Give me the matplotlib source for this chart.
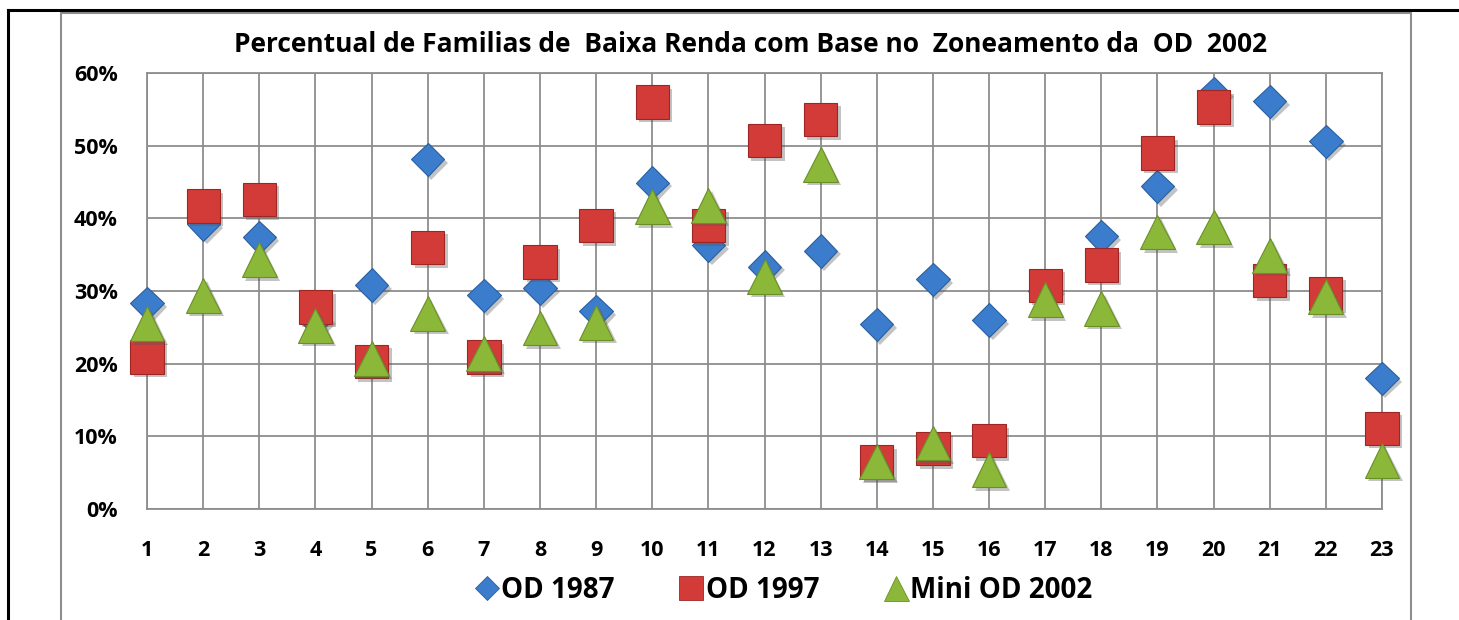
import matplotlib.pyplot as plt
import matplotlib.patheffects as pe
from matplotlib.lines import Line2D
from matplotlib.patches import Rectangle
from matplotlib.ticker import PercentFormatter

# zonas 1..23
zonas = list(range(1, 24))
od_1987 = [28.3, 39.2, 37.4, 26.0, 30.8, 48.1, 29.4, 30.4, 27.2, 44.9, 36.3, 33.3,
           35.5, 25.4, 31.6, 26.0, 30.0, 37.5, 44.4, 57.2, 56.1, 50.6, 18.0]
od_1997 = [20.9, 41.7, 42.6, 27.8, 20.3, 36.0, 20.9, 34.0, 39.0, 56.0, 39.0, 50.7,
           53.6, 6.5, 8.3, 9.4, 30.8, 33.6, 49.0, 55.3, 31.4, 29.7, 11.1]
mini_od_2002 = [25.5, 29.4, 34.3, 25.3, 20.7, 26.9, 21.4, 24.9, 25.7, 41.6, 41.8, 32.0,
                47.4, 6.5, 9.1, 5.4, 28.8, 27.6, 38.1, 38.8, 34.9, 29.2, 6.7]

series = [
    ('OD 1987', od_1987, 'D', 17, '#3b7dcc', '#2a5f9e'),
    ('OD 1997', od_1997, 's', 24, '#d23b38', '#9c2624'),
    ('Mini OD 2002', mini_od_2002, '^', 25, '#8cb83a', '#6a8f26'),
]

plt.rcParams['font.family'] = ['Open Sans', 'DejaVu Sans']
plt.rcParams['font.weight'] = 'bold'

fig = plt.figure(figsize=(14.59, 6.20), dpi=100)
ax = fig.add_axes([0.1008, 0.179, 0.8464, 0.7033])

shadow = [pe.SimplePatchShadow(offset=(2.5, -2.5), shadow_rgbFace='#555555', alpha=0.35), pe.Normal()]

for label, vals, marker, ms, color, edge in series:
    ax.plot(zonas, [v / 100 for v in vals], linestyle='none', marker=marker, markersize=ms,
            markerfacecolor=color, markeredgecolor=edge, markeredgewidth=0.8,
            clip_on=False, zorder=3, path_effects=shadow)

ax.set_xlim(1, 23)
ax.set_ylim(0, 0.6)
ax.set_xticks(zonas)
ax.set_yticks([0, 0.1, 0.2, 0.3, 0.4, 0.5, 0.6])
ax.yaxis.set_major_formatter(PercentFormatter(1.0, decimals=0))
ax.grid(True, color='#8e8e8e', linewidth=1.3)
ax.set_axisbelow(True)
for s in ax.spines.values():
    s.set_color('#8e8e8e')
    s.set_linewidth(1.3)
ax.tick_params(length=0, labelsize=15.5)
ax.tick_params(axis='y', pad=21)
ax.tick_params(axis='x', pad=22)
for t in ax.get_xticklabels() + ax.get_yticklabels():
    t.set_fontweight('bold')

fig.text(751 / 1459, 1 - 45 / 620, 'Percentual de Familias de  Baixa Renda com Base no  Zoneamento da  OD  2002',
         ha='center', va='center', fontsize=19, fontweight='bold')

handles = [Line2D([], [], linestyle='none', marker=m, markersize=ms * 0.72,
                  markerfacecolor=c, markeredgecolor=e, markeredgewidth=0.6)
           for _, _, m, ms, c, e in series]
fig.legend(handles, [s[0] for s in series], loc='center', bbox_to_anchor=(782 / 1459, 1 - 590 / 620),
           ncol=3, frameon=False, prop={'weight': 'bold', 'size': 20},
           handletextpad=-0.02, columnspacing=2.2, handlelength=1.1)

# moldura cinza do grafico e linhas pretas externas
fig.add_artist(Rectangle((61 / 1459, -0.05), (1411 - 61) / 1459, 1.05 - 13 / 620,
                         transform=fig.transFigure, fill=False, edgecolor='#8e8e8e', linewidth=1.5))
fig.add_artist(Line2D([8 / 1459, 1], [1 - 10 / 620, 1 - 10 / 620], transform=fig.transFigure,
                      color='black', linewidth=2.2))
fig.add_artist(Line2D([8 / 1459, 8 / 1459], [0, 1 - 10 / 620], transform=fig.transFigure,
                      color='black', linewidth=2.2))

fig.savefig('out.png', dpi=100)
